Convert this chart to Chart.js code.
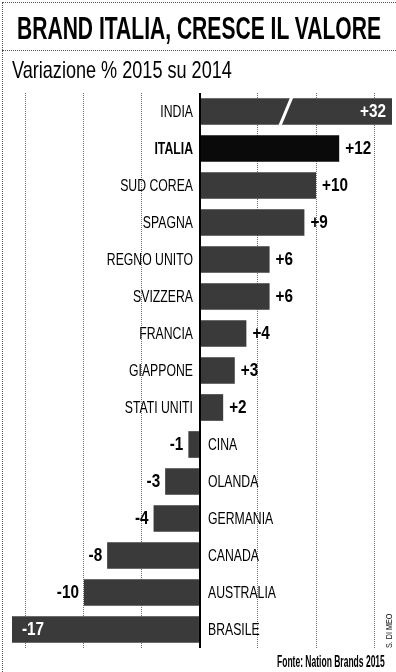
<!DOCTYPE html>
<html>
<head>
<meta charset="utf-8">
<script src="https://cdn.jsdelivr.net/npm/chart.js@4.4.1/dist/chart.umd.min.js"></script>
<style>
  html,body{margin:0;padding:0;background:#fff;}
  #wrap{position:relative;width:396px;height:672px;overflow:hidden;background:#fff;font-family:"Liberation Sans",Arial,sans-serif;color:#000;}
  #frame{position:absolute;left:2px;top:2px;right:-4px;bottom:-4px;border-left:1px dotted #555;border-top:1px dotted #555;}
  #rule{position:absolute;left:2px;top:50px;width:396px;border-top:1px dotted #555;}
  .fit{position:absolute;white-space:nowrap;display:inline-block;transform-origin:0 0;}
  #title{left:17px;top:12px;font-size:32px;line-height:32px;font-weight:bold;}
  #sub{left:12px;top:58px;font-size:24px;line-height:24px;}
  #src{left:277px;top:654px;font-size:16px;line-height:16px;font-weight:bold;}
  #credit{position:absolute;left:385px;top:648px;font-size:9px;line-height:9px;white-space:nowrap;transform-origin:0 0;transform:rotate(-90deg) scaleX(.8);color:#111;}
  canvas{position:absolute;left:0;top:0;}
</style>
</head>
<body>
<div id="wrap">
  <canvas id="c" width="396" height="672"></canvas>
  <div id="frame"></div>
  <div id="rule"></div>
  <div id="title" class="fit" data-w="364">BRAND ITALIA, CRESCE IL VALORE</div>
  <div id="sub" class="fit" data-w="220">Variazione % 2015 su 2014</div>
  <div id="src" class="fit" data-w="108">Fonte: Nation Brands 2015</div>
  <div id="credit">S. DI MEO</div>
</div>
<script>
'use strict';
// ── DATA ──────────────────────────────────────────────────────
const paesi = ['INDIA','ITALIA','SUD COREA','SPAGNA','REGNO UNITO','SVIZZERA','FRANCIA','GIAPPONE','STATI UNITI','CINA','OLANDA','GERMANIA','CANADA','AUSTRALIA','BRASILE'];
const variazione = [32,12,10,9,6,6,4,3,2,-1,-3,-4,-8,-10,-17];
const gridTicks = [-15,-10,-5,0,5,10,15];
const asseMin = -16.2, asseMax = 16.55;
const taglioIndia = 7.4;   // where the India bar is drawn broken

// ── TEXT HELPERS ──────────────────────────────────────────────
const $ = id => document.getElementById(id);
document.querySelectorAll('.fit').forEach(el=>{
  const w=+el.dataset.w;
  el.style.transform='scaleX('+(w/el.scrollWidth)+')';
});

function txt(ctx,s,x,y,align,sx){
  ctx.save();
  ctx.translate(x,y);
  ctx.scale(sx,1);
  ctx.textAlign=align;
  ctx.fillText(s,0,0);
  ctx.restore();
}
const fval = v => (v>0?'+':'-')+Math.abs(v);

// ── PLUGINS ───────────────────────────────────────────────────
const etichette = {
  id:'etichette',
  afterDatasetsDraw(chart){
    const ctx=chart.ctx, x=chart.scales.x, area=chart.chartArea;
    const meta=chart.getDatasetMeta(0);
    const zero=x.getPixelForValue(0);
    ctx.save();
    ctx.textBaseline='middle';
    meta.data.forEach((bar,i)=>{
      const v=variazione[i], y=bar.y+1;
      // country name on the opposite side of the bar
      ctx.fillStyle='#000';
      ctx.font=(paesi[i]==='ITALIA'?'bold ':'')+'17px "Liberation Sans", Arial';
      if(v>=0) txt(ctx,paesi[i],zero-7,y,'right',0.72);
      else txt(ctx,paesi[i],zero+8,y,'left',0.72);
      // value
      ctx.font='bold 18px "Liberation Sans", Arial';
      if(v>asseMax){ctx.fillStyle='#fff';txt(ctx,fval(v),area.right-6,y,'right',0.85);}
      else if(v<asseMin){ctx.fillStyle='#fff';txt(ctx,fval(v),area.left+10,y,'left',0.85);}
      else if(v>=0){ctx.fillStyle='#000';txt(ctx,fval(v),bar.x+6,y,'left',0.85);}
      else {ctx.fillStyle='#000';txt(ctx,fval(v),bar.x-5,y,'right',0.85);}
    });
    // break mark on the India bar
    const b=meta.data[0], h=b.height/2, bx=x.getPixelForValue(taglioIndia);
    ctx.strokeStyle='#fff';ctx.lineWidth=3;
    ctx.beginPath();ctx.moveTo(bx-6,b.y+h+1);ctx.lineTo(bx+6,b.y-h-1);ctx.stroke();
    ctx.restore();
  }
};

// ── CHART ─────────────────────────────────────────────────────
new Chart($('c').getContext('2d'),{
  type:'bar',
  data:{
    labels:paesi,
    datasets:[{
      data:variazione,
      backgroundColor:paesi.map(p=>p==='ITALIA'?'#0a0a0a':'#3a3a3a'),
      borderWidth:0,
      categoryPercentage:1,
      barPercentage:0.72
    }]
  },
  options:{
    indexAxis:'y',
    responsive:false,
    devicePixelRatio:1,
    animation:false,
    layout:{padding:{left:12,right:4,top:93,bottom:24}},
    plugins:{legend:{display:false},tooltip:{enabled:false},title:{display:false}},
    scales:{
      y:{display:false},
      x:{
        min:asseMin,max:asseMax,
        afterBuildTicks:s=>{s.ticks=gridTicks.map(v=>({value:v}));},
        ticks:{display:false},
        border:{display:false,dash:c=>c.tick&&c.tick.value===0?[]:[1,1]},
        grid:{
          drawTicks:false,
          color:c=>c.tick&&c.tick.value===0?'#000':'#6e6e6e',
          lineWidth:c=>c.tick&&c.tick.value===0?2:1
        }
      }
    }
  },
  plugins:[etichette]
});
</script>
</body>
</html>
